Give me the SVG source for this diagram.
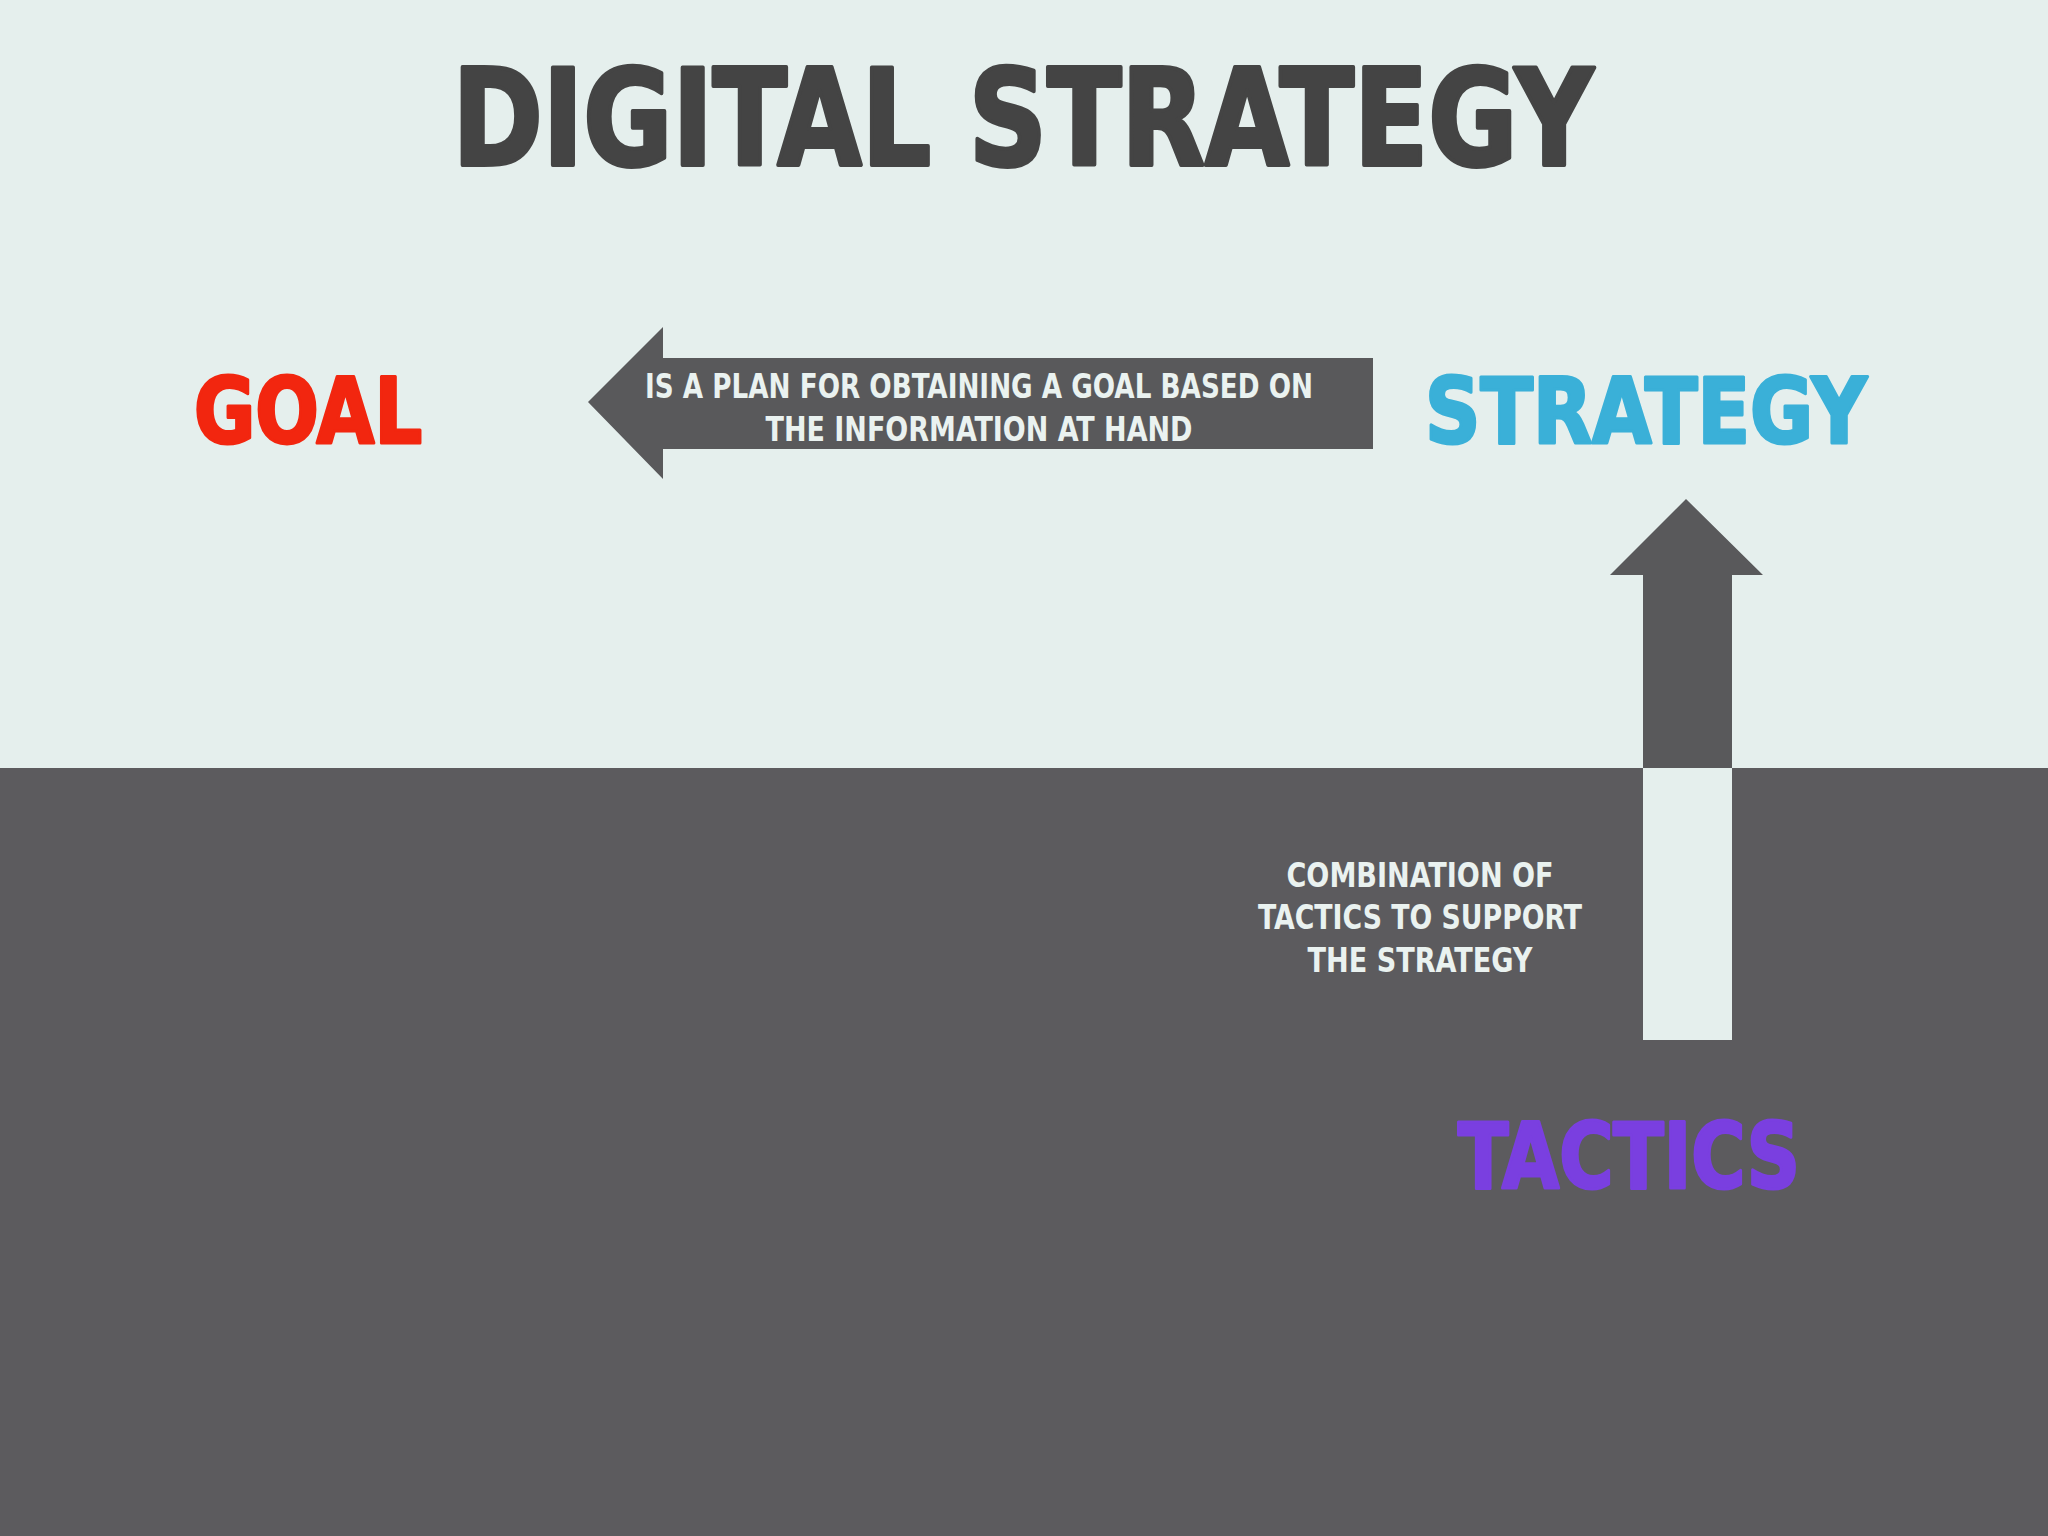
<svg xmlns="http://www.w3.org/2000/svg" width="2048" height="1536" viewBox="0 0 2048 1536">
<style>
text{font-family:"DejaVu Sans Condensed","Liberation Sans Narrow","Liberation Sans",sans-serif;font-weight:bold;text-anchor:middle}
.lbl{fill:#eaf2f0;font-size:34px}
.big{font-size:90px;stroke-width:3px;stroke-linejoin:round}
</style>
<rect x="0" y="0" width="2048" height="768" fill="#e5efed"/>
<rect x="0" y="768" width="2048" height="768" fill="#5c5b5e"/>
<g id="title"><text x="1023" y="165" font-size="134" fill="#444444" stroke="#444444" stroke-width="4" stroke-linejoin="round" textLength="1141" lengthAdjust="spacingAndGlyphs">DIGITAL STRATEGY</text></g>
<g id="goal"><text class="big" x="308" y="443" fill="#f2260f" stroke="#f2260f" textLength="228" lengthAdjust="spacingAndGlyphs">GOAL</text></g>
<g id="strategy"><text class="big" x="1646" y="443" fill="#3ab0d8" stroke="#3ab0d8" textLength="442" lengthAdjust="spacingAndGlyphs">STRATEGY</text></g>
<g id="tactics"><text class="big" x="1629" y="1188" fill="#7a3fe0" stroke="#7a3fe0" textLength="342" lengthAdjust="spacingAndGlyphs">TACTICS</text></g>
<g id="connectors">
<g id="arrow-strategy-goal">
<polygon points="588,402 663,327 663,358 1373,358 1373,449 663,449 663,479" fill="#59595b"/>
<text class="lbl" x="979" y="398" textLength="668" lengthAdjust="spacingAndGlyphs">IS A PLAN FOR OBTAINING A GOAL BASED ON</text>
<text class="lbl" x="979" y="441" textLength="427" lengthAdjust="spacingAndGlyphs">THE INFORMATION AT HAND</text>
</g>
<g id="arrow-tactics-strategy">
<polygon points="1686,499 1763,575 1732,575 1732,768 1643,768 1643,575 1610,575" fill="#59595b"/>
<rect x="1643" y="768" width="89" height="272" fill="#e5efed"/>
<text class="lbl" x="1420" y="887" textLength="267" lengthAdjust="spacingAndGlyphs">COMBINATION OF</text>
<text class="lbl" x="1420" y="929" textLength="324" lengthAdjust="spacingAndGlyphs">TACTICS TO SUPPORT</text>
<text class="lbl" x="1420" y="972" textLength="225" lengthAdjust="spacingAndGlyphs">THE STRATEGY</text>
</g>
</g>
</svg>
